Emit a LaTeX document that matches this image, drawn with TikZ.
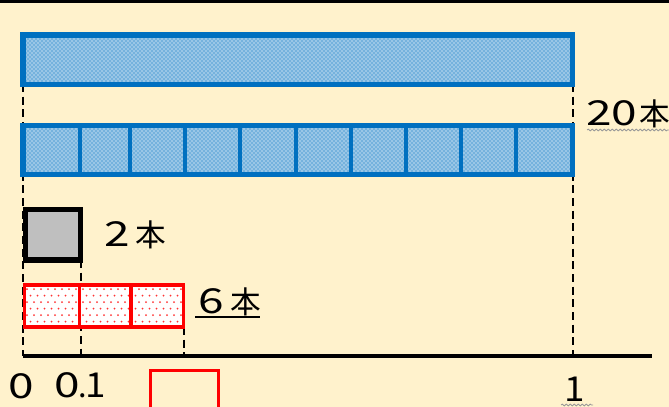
\documentclass[tikz,border=0pt]{standalone}
\usepackage{fontspec}
\setmainfont{Noto Sans CJK JP}
\usetikzlibrary{patterns,decorations.pathmorphing}
\definecolor{bg}{HTML}{FFF2CC}
\definecolor{myblue}{HTML}{0070C0}
\definecolor{grayfill}{HTML}{BFBFBF}
\definecolor{myred}{HTML}{FF0000}
\newcommand\widedig[1]{\scalebox{1.5}[1.12]{#1}}
\tikzset{
  bluebox/.style={draw=myblue, line width=4.1pt, pattern=crosshatch dots, pattern color=myblue,
     preaction={fill=myblue!40!white}},
  bluediv/.style={draw=myblue, line width=3.6pt},
  graybox/.style={draw=black, line width=3.8pt, fill=grayfill},
  redbox/.style={draw=myred, line width=2.7pt},
  guide/.style={black, line width=1.5pt, dash pattern=on 6pt off 3.5pt},
  axis/.style={black, line width=2.6pt},
  lbl/.style={inner sep=0pt, font=\fontsize{23}{27}\selectfont},
  axlbl/.style={inner sep=0pt, font=\fontsize{23}{27}\selectfont},
  wavy/.style={gray!80, line width=0.6pt, decorate, decoration={snake, amplitude=0.7pt, segment length=3pt}}
}
\begin{document}
\begin{tikzpicture}[x=0.75pt,y=-0.75pt]
\clip (0,0) rectangle (669,407);
\fill[bg] (0,0) rectangle (669,407);
\draw[black, line width=2.4pt] (0,1.2) -- (669,1.2);

% coordinates
\coordinate (a0) at (22.5,356);
\coordinate (a1) at (652,356);

% guide lines (behind boxes)
\coordinate (g0t) at (22.5,84);
\coordinate (g1t) at (572.5,84);
\coordinate (g2t) at (80.5,260);
\coordinate (g3t) at (183.5,327);
\coordinate (g0b) at (22.5,356);
\coordinate (g1b) at (572.5,356);
\coordinate (g2b) at (80.5,356);
\coordinate (g3b) at (183.5,356);
\draw[guide] (g0t) -- (g0b);
\draw[guide] (g1t) -- (g1b);
\draw[guide] (g2t) -- (g2b);
\draw[guide] (g3t) -- (g3b);

% top bar
\draw[bluebox] (23,35) rectangle (572.5,84.5);

% second bar, 10 cells
\draw[bluebox] (23,125.5) rectangle (572.5,174.5);
\foreach \x in {80,130,185,240,296,351,406,461,516}{
  \draw[bluediv] (\x,125.5) -- (\x,174.5);
}

% gray box
\draw[graybox] (25.5,209.5) rectangle (80.5,260);

% red cells with dots
\fill[white] (24.5,285) rectangle (183.5,327);
\begin{scope}
\clip (24.5,285) rectangle (183.5,327);
\foreach \i in {0,...,23}{
  \foreach \j in {0,...,6}{
    \fill[myred!80] ({27+7*\i+mod(\j,2)*3.5},{289+6.5*\j}) circle (0.75pt);
  }
}
\end{scope}
\draw[redbox] (24.5,285) rectangle (183.5,327);
\draw[redbox] (79.5,285) -- (79.5,327);
\draw[redbox] (131,285) -- (131,327);

% axis
\draw[axis] (a0) -- (a1);

% labels
\node[lbl, anchor=west] (t20) at (586,114) {\widedig{2}\widedig{0}\kern2pt 本};
\draw[wavy] (587,130) -- (669,130);
\node[lbl, anchor=west] (t2) at (104,235) {\widedig{2}\kern4pt 本};
\node[lbl, anchor=west] (t6) at (198,302) {\widedig{6}\kern5pt 本};
\draw[black, line width=1.3pt] (195,317) -- (260,317);

\node[axlbl] (l0) at (21,386) {\widedig{0}};
\node[axlbl] (l01) at (80,385) {\widedig{0}\kern-1pt.\kern-1pt\scalebox{1.2}[1.12]{1}};
\node[axlbl] (l1) at (575,389) {\scalebox{1.2}[1.12]{1}};
\draw[wavy] (561,405) -- (593,405);

% empty red box at bottom
\draw[myred, line width=1.7pt] (150.5,370.5) rectangle (218.5,420);
\end{tikzpicture}
\end{document}
